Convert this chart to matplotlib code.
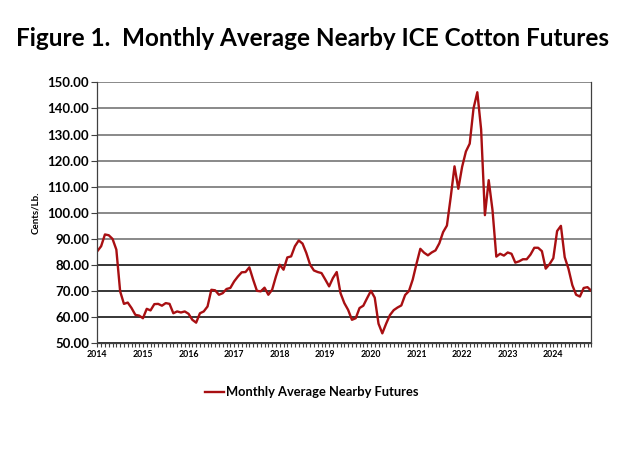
import matplotlib
matplotlib.use("Agg")
import matplotlib.pyplot as plt
from matplotlib.ticker import MultipleLocator, FixedLocator, FuncFormatter

# monthly average nearby ICE cotton futures, cents/lb, Jan 2014 - Nov 2024
prices = [
    85.3, 87.2, 91.7, 91.4, 90.0, 85.9, 69.9, 65.1, 65.6, 63.5, 60.9, 60.6,   # 2014
    59.6, 63.2, 62.6, 65.0, 65.1, 64.4, 65.4, 65.1, 61.5, 62.2, 61.8, 62.2,   # 2015
    61.3, 59.0, 57.9, 61.5, 62.2, 64.1, 70.5, 70.3, 68.6, 69.2, 70.8, 71.2,   # 2016
    73.7, 75.6, 77.2, 77.3, 79.1, 74.4, 70.1, 69.9, 71.3, 68.6, 70.5, 75.6,   # 2017
    80.1, 78.2, 82.9, 83.3, 87.2, 89.4, 88.2, 84.6, 80.1, 77.9, 77.3, 76.9,   # 2018
    74.4, 71.8, 75.0, 77.3, 69.2, 65.4, 62.8, 59.0, 59.6, 63.5, 64.4, 67.3,   # 2019
    70.1, 67.5, 57.5, 53.8, 57.5, 60.8, 62.7, 63.7, 64.5, 68.5, 70.0, 74.4,   # 2020
    80.5, 86.2, 84.7, 83.7, 84.8, 85.6, 88.3, 92.6, 95.1, 106.0, 117.8, 109.2,  # 2021
    117.6, 123.5, 126.5, 140.0, 146.2, 132.0, 99.1, 112.5, 101.0, 83.2, 84.3, 83.6,  # 2022
    84.8, 84.3, 80.9, 81.4, 82.2, 82.2, 84.0, 86.6, 86.6, 85.3, 78.6, 80.3,   # 2023
    82.6, 93.0, 95.0, 83.0, 78.5, 72.3, 68.6, 67.9, 71.2, 71.5, 70.1,         # 2024
]
years = list(range(2014, 2025))
y_ticks = [50, 60, 70, 80, 90, 100, 110, 120, 130, 140, 150]
legend_label = "Monthly Average Nearby Futures"
title = "Figure 1.  Monthly Average Nearby ICE Cotton Futures"

months = list(range(len(prices)))

fig = plt.figure(figsize=(6.24, 4.68), dpi=100)
ax = fig.add_axes([0.156, 0.2665, 0.7916, 0.5576])

line, = ax.plot(months, prices, color="#A80F12", lw=1.7, label=legend_label)

ax.set_xlim(0, len(prices) - 1)
ax.set_ylim(y_ticks[0], y_ticks[-1])

# x axis: year labels at each January, a tick every month
ax.xaxis.set_major_locator(FixedLocator([12 * i for i in range(len(years))]))
ax.set_xticklabels([str(y) for y in years])
ax.xaxis.set_minor_locator(MultipleLocator(1))
ax.tick_params(axis="x", which="both", direction="out", length=3, width=0.8,
               color="#404040", labelsize=6.3, pad=2)

ax.yaxis.set_major_locator(FixedLocator(y_ticks))
ax.yaxis.set_major_formatter(FuncFormatter(lambda v, p: f"{v:.2f}"))
ax.tick_params(axis="y", direction="out", length=4, width=0.8,
               color="#404040", labelsize=9.5, pad=2)

for lab in ax.get_xticklabels() + ax.get_yticklabels():
    lab.set_fontweight("bold")
    lab.set_family("Lato")

# horizontal gridlines: black in the 60-80 band, grey above
ax.yaxis.grid(True)
for val, gl in zip(y_ticks, ax.get_ygridlines()):
    if val <= 80:
        gl.set_color("black")
        gl.set_linewidth(1.1)
    else:
        gl.set_color("#6a6a6a")
        gl.set_linewidth(1.1)
ax.set_axisbelow(True)

ax.spines["top"].set_visible(False)
for s in ["left", "bottom", "right"]:
    ax.spines[s].set_color("#404040")
    ax.spines[s].set_linewidth(0.9)

ax.set_ylabel("Cents/Lb.", fontsize=7, fontweight="bold", family="Lato", labelpad=5)

fig.text(0.5, 0.918, title, ha="center", va="center", fontsize=17.5,
         fontweight="bold", family="Lato")

fig.legend(handles=[line], loc="center", bbox_to_anchor=(0.5, 0.162), frameon=False,
           prop={"family": "Lato", "weight": "bold", "size": 9.3},
           handlelength=1.4, handletextpad=0.2)

fig.savefig("out.png", dpi=100)
